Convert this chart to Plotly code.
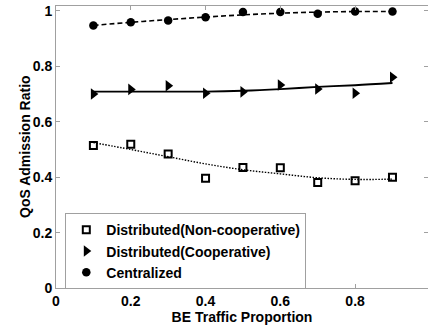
import plotly.graph_objects as go

x_vals = [0.1, 0.2, 0.3, 0.4, 0.5, 0.6, 0.7, 0.8, 0.9]

noncoop = [0.514, 0.519, 0.484, 0.396, 0.435, 0.434, 0.381, 0.387, 0.400]
coop = [0.700, 0.717, 0.730, 0.703, 0.708, 0.733, 0.718, 0.703, 0.761]
central = [0.948, 0.959, 0.966, 0.977, 0.996, 0.996, 0.990, 0.998, 0.998]

# trend lines
noncoop_fit = [0.525, 0.500, 0.474, 0.448, 0.427, 0.412, 0.398, 0.392, 0.393]
coop_fit = [0.709, 0.709, 0.709, 0.709, 0.712, 0.718, 0.726, 0.732, 0.740]
central_fit = [0.948, 0.959, 0.969, 0.978, 0.986, 0.992, 0.996, 0.998, 0.998]

names = ["Distributed(Non-cooperative)", "Distributed(Cooperative)", "Centralized"]
x_ticks = [0, 0.2, 0.4, 0.6, 0.8]
y_ticks = [0, 0.2, 0.4, 0.6, 0.8, 1]

FONT = "Liberation Sans, Arial, sans-serif"
fig = go.Figure()

fig.add_trace(go.Scatter(x=x_vals, y=noncoop_fit, mode="lines", showlegend=False,
                         line=dict(color="black", width=1.4, dash="1.5px,1.5px", shape="spline"), hoverinfo="skip"))
fig.add_trace(go.Scatter(x=x_vals, y=coop_fit, mode="lines", showlegend=False,
                         line=dict(color="black", width=1.8, shape="spline"), hoverinfo="skip"))
fig.add_trace(go.Scatter(x=x_vals, y=central_fit, mode="lines", showlegend=False,
                         line=dict(color="black", width=1.6, dash="5px,3px", shape="spline"), hoverinfo="skip"))

fig.add_trace(go.Scatter(x=x_vals, y=noncoop, mode="markers", name=names[0],
                         marker=dict(symbol="square-open", size=7, color="black", line=dict(width=2, color="black"))))
fig.add_trace(go.Scatter(x=x_vals, y=coop, mode="markers", name=names[1],
                         marker=dict(symbol="triangle-right", size=10, color="black")))
fig.add_trace(go.Scatter(x=x_vals, y=central, mode="markers", name=names[2],
                         marker=dict(symbol="circle", size=8.5, color="black")))

# right-side ticks without the axis line
fig.add_trace(go.Scatter(x=[None], y=[None], yaxis="y2", showlegend=False, hoverinfo="skip"))

axis_color = "#a0a0a0"
fig.update_layout(
    width=428, height=326,
    margin=dict(l=56, r=0, t=6, b=38),
    paper_bgcolor="white", plot_bgcolor="white",
    font=dict(family=FONT, size=14, color="black"),
    xaxis=dict(range=[0, 0.995], tickvals=x_ticks, ticktext=["0", "0.2", "0.4", "0.6", "0.8"],
               ticks="inside", ticklen=4, tickcolor=axis_color, showline=True, linecolor=axis_color,
               linewidth=1, mirror="ticks", showgrid=False, zeroline=False,
               tickfont=dict(family=FONT, size=14, color="black", weight="bold"),
               title=dict(text="BE Traffic Proportion", standoff=0,
                          font=dict(family=FONT, size=14, color="black", weight="bold"))),
    yaxis=dict(range=[0, 1.018], tickvals=y_ticks, ticktext=["0", "0.2", "0.4", "0.6", "0.8", "1"],
               ticks="inside", ticklen=4, tickcolor=axis_color, showline=True, linecolor=axis_color,
               linewidth=1, showgrid=False, zeroline=False,
               tickfont=dict(family=FONT, size=14, color="black", weight="bold")),
    yaxis2=dict(range=[0, 1.018], overlaying="y", side="right", tickvals=y_ticks,
                ticks="inside", ticklen=4, tickcolor=axis_color, showticklabels=False,
                showline=False, showgrid=False, zeroline=False),
    legend=dict(x=0.025, y=0.265, xanchor="left", yanchor="top",
                bgcolor="white", bordercolor=axis_color, borderwidth=1,
                font=dict(family=FONT, size=14, color="black", weight="bold"),
                itemsizing="trace", tracegroupgap=0),
    annotations=[dict(text="QoS Admission Ratio", textangle=-90, xref="paper", yref="paper",
                      x=0, y=0.5, xanchor="center", yanchor="middle", xshift=-31, showarrow=False,
                      font=dict(family=FONT, size=14, color="black", weight="bold"))],
)

fig.write_html("out.html")
